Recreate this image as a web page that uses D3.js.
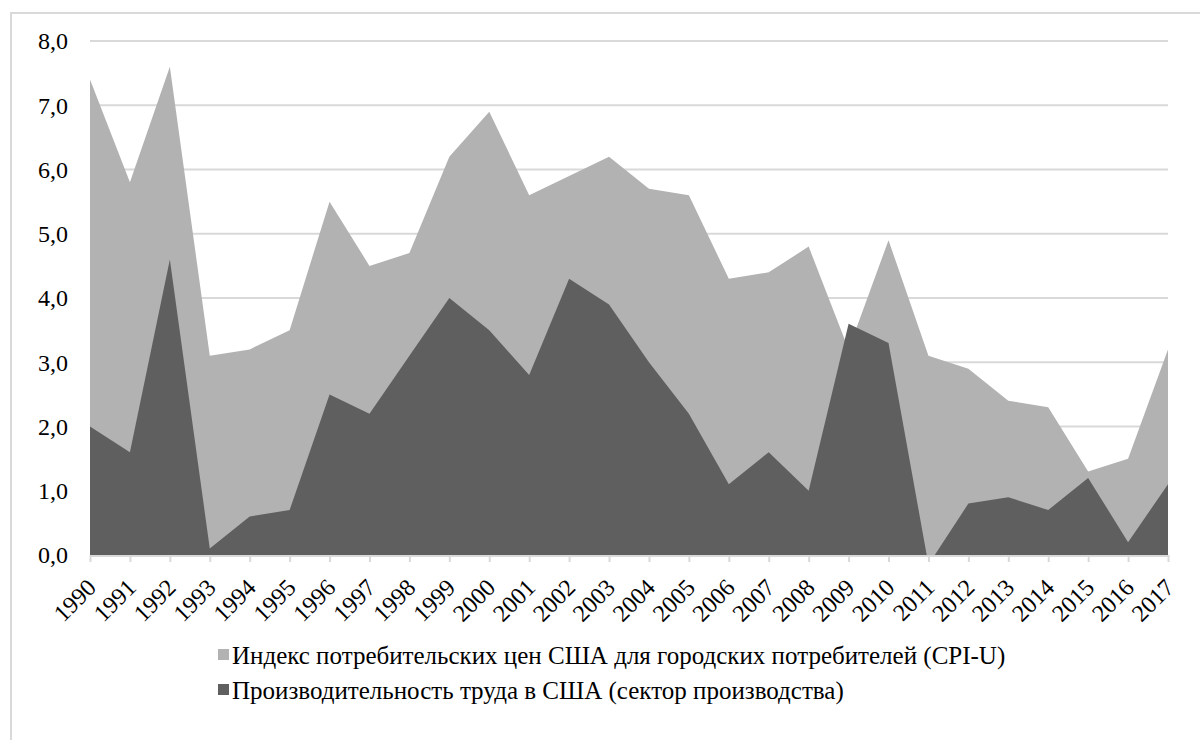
<!DOCTYPE html>
<html>
<head>
<meta charset="utf-8">
<script src="https://cdnjs.cloudflare.com/ajax/libs/d3/7.8.5/d3.min.js"></script>
</head>
<body style="margin:0;background:#fff">
<svg id="chart" width="1200" height="740" style="display:block"></svg>
<script>
const years = ["1990","1991","1992","1993","1994","1995","1996","1997","1998","1999","2000","2001","2002","2003","2004","2005","2006","2007","2008","2009","2010","2011","2012","2013","2014","2015","2016","2017"];
const cpiValues = [7.4, 5.8, 7.6, 3.1, 3.2, 3.5, 5.5, 4.5, 4.7, 6.2, 6.9, 5.6, 5.9, 6.2, 5.7, 5.6, 4.3, 4.4, 4.8, 3.2, 4.9, 3.1, 2.9, 2.4, 2.3, 1.3, 1.5, 3.2];
const productivityValues = [2.0, 1.6, 4.6, 0.1, 0.6, 0.7, 2.5, 2.2, 3.1, 4.0, 3.5, 2.8, 4.3, 3.9, 3.0, 2.2, 1.1, 1.6, 1.0, 3.6, 3.3, -0.15, 0.8, 0.9, 0.7, 1.2, 0.2, 1.1];
const yTicks = [0, 1, 2, 3, 4, 5, 6, 7, 8];
const seriesNames = ["Индекс потребительских цен США для городских потребителей (CPI-U)", "Производительность труда в США (сектор производства)"];
const seriesColors = ["#b2b2b2", "#5f5f5f"];

(function () {
const FONT = "Liberation Serif";
const svg = d3.select("#chart");
const pLeft = 90, pRight = 1168, pTop = 41, pBottom = 555;

// outer chart border
svg.append("path")
  .attr("d", "M11,760 V13 H1210")
  .attr("fill", "none").attr("stroke", "#d9d9d9").attr("stroke-width", 2);

const x = d3.scalePoint().domain(years).range([pLeft, pRight]);
const y = d3.scaleLinear().domain([0, 8]).range([pBottom, pTop]);

// gridlines
svg.append("g").selectAll("line").data(yTicks.filter(d => d > 0)).join("line")
  .attr("x1", pLeft).attr("x2", pRight)
  .attr("y1", d => y(d)).attr("y2", d => y(d))
  .attr("stroke", "#d9d9d9").attr("stroke-width", 2);

svg.append("defs").append("clipPath").attr("id", "plotclip")
  .append("rect").attr("x", pLeft).attr("y", pTop - 5).attr("width", pRight - pLeft).attr("height", pBottom - pTop + 5);

const plot = svg.append("g").attr("clip-path", "url(#plotclip)");
const area = vals => d3.area()
  .x((d, i) => x(years[i]))
  .y0(y(0))
  .y1(d => y(d))(vals);

plot.append("path").attr("d", area(cpiValues)).attr("fill", seriesColors[0]);
plot.append("path").attr("d", area(productivityValues)).attr("fill", seriesColors[1]);

// x axis
const xAxis = svg.append("g").attr("transform", `translate(0,${pBottom})`)
  .call(d3.axisBottom(x).tickSize(7).tickPadding(6));
xAxis.attr("font-family", FONT).attr("font-size", 24);
xAxis.select(".domain").attr("stroke", "#d9d9d9").attr("stroke-width", 2).attr("d", `M${pLeft},1H${pRight}`);
xAxis.selectAll(".tick line").attr("stroke", "#d9d9d9").attr("stroke-width", 2);
xAxis.selectAll(".tick text")
  .attr("font-family", FONT)
  .attr("font-size", 24)
  .attr("fill", "#000")
  .attr("text-anchor", "end")
  .attr("dy", "0")
  .attr("transform", "translate(7,34) rotate(-45)")
  .attr("y", 0).attr("x", 0);

// y axis labels
svg.append("g").selectAll("text").data(yTicks).join("text")
  .attr("x", 68).attr("y", d => y(d))
  .attr("dy", "0.35em")
  .attr("text-anchor", "end")
  .attr("font-family", FONT)
  .attr("font-size", 24)
  .attr("fill", "#000")
  .text(d => d3.format(".1f")(d).replace(".", ","));

// legend
const legend = svg.append("g");
const ly = [655, 690];
seriesNames.forEach((name, i) => {
  legend.append("rect").attr("x", 218).attr("y", ly[i] - 6).attr("width", 11).attr("height", 11).attr("fill", seriesColors[i]);
  legend.append("text").attr("x", 232).attr("y", ly[i]).attr("dy", "0.35em")
    .attr("font-family", FONT)
    .attr("font-size", 25)
    .attr("fill", "#000").text(name);
});
})();
</script>
</body>
</html>
